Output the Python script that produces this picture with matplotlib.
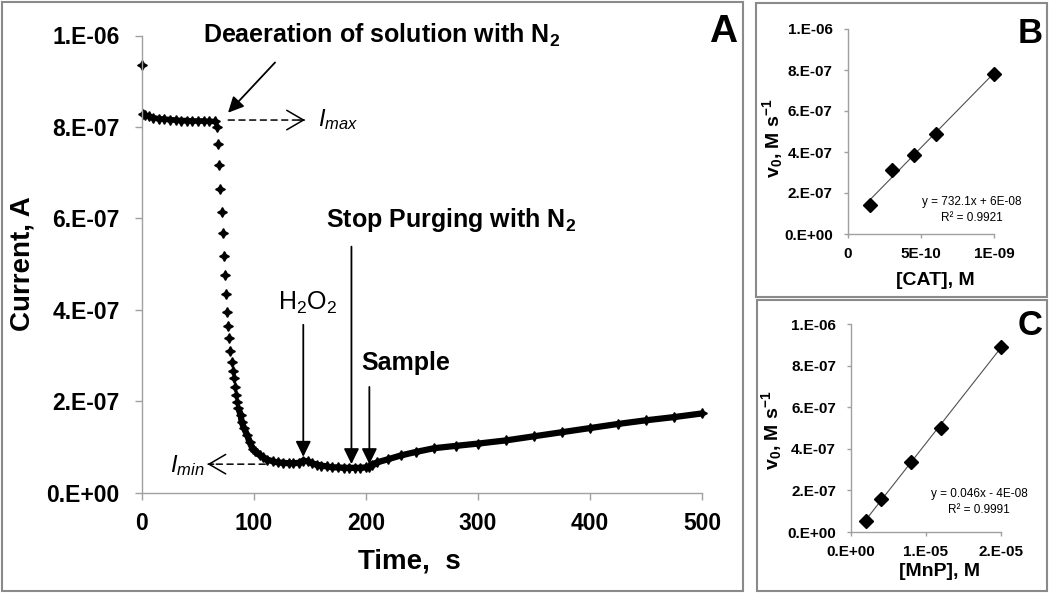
import numpy as np
import matplotlib
matplotlib.use('Agg')
import matplotlib.pyplot as plt
from matplotlib.patches import Rectangle

plt.rcParams['font.family'] = ['Liberation Sans', 'DejaVu Sans']
plt.rcParams['mathtext.fontset'] = 'custom'
plt.rcParams['mathtext.rm'] = 'Liberation Sans'
plt.rcParams['mathtext.it'] = 'Liberation Sans:italic'
plt.rcParams['mathtext.bf'] = 'Liberation Sans:bold'
plt.rcParams['mathtext.default'] = 'regular'

# ---- panel A: current vs time ----
time_s = [0, 1, 3, 6, 10, 15, 20, 25, 30, 35, 40, 45, 50, 55, 60, 65,
          67, 68, 69, 70, 71, 72, 73, 74, 75, 76, 77, 78, 79, 80, 81, 82, 83, 84, 85, 86,
          88, 89, 91, 94, 96, 99, 101,
          105, 108, 112, 117, 121, 126, 131, 135, 140,
          144, 148, 152, 156, 160, 165, 170, 175, 180, 185, 190, 195, 200,
          203, 205, 210, 220, 231, 245, 261, 280, 300,
          325, 350, 375, 400, 425, 450, 475, 500]
current_A = [9.35e-7, 8.29e-7, 8.26e-7, 8.23e-7, 8.20e-7, 8.18e-7, 8.17e-7, 8.16e-7,
             8.15e-7, 8.14e-7, 8.14e-7, 8.13e-7, 8.13e-7, 8.13e-7, 8.12e-7, 8.12e-7,
             7.99e-7, 7.62e-7, 7.16e-7, 6.65e-7, 6.13e-7, 5.67e-7, 5.17e-7, 4.76e-7,
             4.34e-7, 3.95e-7, 3.65e-7, 3.38e-7, 3.10e-7, 2.86e-7, 2.66e-7, 2.51e-7,
             2.31e-7, 2.14e-7, 1.98e-7, 1.85e-7,
             1.70e-7, 1.54e-7, 1.41e-7, 1.25e-7, 1.10e-7, 0.95e-7, 0.90e-7,
             0.82e-7, 0.77e-7, 0.72e-7, 0.68e-7, 0.66e-7, 0.65e-7, 0.64e-7, 0.64e-7, 0.65e-7,
             0.70e-7, 0.68e-7, 0.64e-7, 0.61e-7, 0.59e-7, 0.57e-7, 0.55e-7, 0.55e-7,
             0.54e-7, 0.54e-7, 0.54e-7, 0.54e-7, 0.55e-7,
             0.56e-7, 0.61e-7, 0.66e-7, 0.73e-7, 0.81e-7, 0.89e-7, 0.97e-7, 1.02e-7, 1.07e-7,
             1.14e-7, 1.23e-7, 1.32e-7, 1.41e-7, 1.50e-7, 1.58e-7, 1.65e-7, 1.73e-7]
a_xticks = [0, 100, 200, 300, 400, 500]
v_yticks = [0, 2e-7, 4e-7, 6e-7, 8e-7, 1e-6]
v_ytick_labels = ['0.E+00', '2.E-07', '4.E-07', '6.E-07', '8.E-07', '1.E-06']

# ---- panel B: rate vs catalase ----
cat_M = [1.5e-10, 3e-10, 4.5e-10, 6e-10, 1e-9]
v0_cat = [1.40e-7, 3.10e-7, 3.85e-7, 4.90e-7, 7.81e-7]
b_xticks = [0, 5e-10, 1e-9]
b_xtick_labels = ['0', '5E-10', '1E-09']

# ---- panel C: rate vs MnP ----
mnp_M = [2e-6, 4e-6, 8e-6, 1.2e-5, 2e-5]
v0_mnp = [0.53e-7, 1.59e-7, 3.38e-7, 5.01e-7, 8.91e-7]
c_xticks = [0, 1e-5, 2e-5]
c_xtick_labels = ['0.E+00', '1.E-05', '2.E-05']

AXIS_GREY = '#a0a0a0'
FRAME_GREY = '#8a8a8a'


def style_axes(ax, size, xpad, ypad, ticklen):
    for side in ['top', 'right']:
        ax.spines[side].set_visible(False)
    for side in ['left', 'bottom']:
        ax.spines[side].set_color(AXIS_GREY)
        ax.spines[side].set_linewidth(1.0)
    ax.tick_params(direction='out', length=ticklen, width=1.0, color=AXIS_GREY,
                   labelsize=size)
    ax.tick_params(axis='x', pad=xpad)
    ax.tick_params(axis='y', pad=ypad)
    for lab in ax.get_xticklabels() + ax.get_yticklabels():
        lab.set_fontweight('bold')


fig = plt.figure(figsize=(10.5, 5.93), dpi=100)

# panel frames
for (x0, y0, x1, y1) in [(2, 2, 743, 591), (756, 3, 1047, 297), (757, 300, 1047, 591)]:
    fig.add_artist(Rectangle((x0 / 1050, 1 - y1 / 593), (x1 - x0) / 1050, (y1 - y0) / 593,
                             transform=fig.transFigure, fill=False,
                             edgecolor=FRAME_GREY, lw=1.5))

# ---------------- panel A ----------------
ax = fig.add_axes([142 / 1050, 1 - 492.5 / 593, 560 / 1050, 457 / 593])
t = np.array(time_s)
cur = np.array(current_A)
ax.plot(t, cur, ls='none', marker=(4, 1, 0), ms=7, color='black', clip_on=False)
plateau = (t >= 1) & (t <= 65)
tail = t >= 86
ax.plot(t[plateau], cur[plateau], color='black', lw=4, solid_capstyle='butt')
ax.plot(t[tail], cur[tail], color='black', lw=4.5, solid_capstyle='butt', clip_on=False)
ax.set_xlim(0, 500)
ax.set_ylim(0, 1e-6)
ax.set_xticks(a_xticks)
ax.set_yticks(v_yticks)
ax.set_yticklabels(v_ytick_labels)
style_axes(ax, 16.5, 9, 11, 5)
ax.set_xlabel('Time,  s', fontsize=20, fontweight='bold', va='center')
ax.xaxis.set_label_coords(0.477, -0.152)
ax.set_ylabel('Current, A', fontsize=20, fontweight='bold', va='center')
ax.yaxis.set_label_coords(-0.214, 0.5)

solid = dict(arrowstyle='-|>,head_length=0.47,head_width=0.23', color='black',
             lw=1.3, shrinkA=0, shrinkB=0, mutation_scale=20)
ax.annotate('', xy=(76.8, 8.31e-7), xytext=(118.8, 9.41e-7), arrowprops=solid)
ax.annotate('', xy=(144, 7.8e-8), xytext=(144, 3.67e-7), arrowprops=solid)
ax.annotate('', xy=(187, 6.2e-8), xytext=(187, 5.38e-7), arrowprops=solid)
ax.annotate('', xy=(203, 6.2e-8), xytext=(203, 2.31e-7), arrowprops=solid)

dashed = dict(arrowstyle='-', color='black', lw=1.1, ls=(0, (4, 3)),
              shrinkA=0, shrinkB=0)
head = dict(arrowstyle='->,head_length=0.6,head_width=0.35', color='black',
            lw=1.1, shrinkA=0, shrinkB=0, mutation_scale=20)
ax.annotate('', xy=(145, 8.15e-7), xytext=(77, 8.15e-7), arrowprops=dashed)
ax.annotate('', xy=(145.5, 8.15e-7), xytext=(140, 8.15e-7), arrowprops=head)
ax.annotate('', xy=(59, 6.2e-8), xytext=(110, 6.2e-8), arrowprops=dashed)
ax.annotate('', xy=(58.5, 6.2e-8), xytext=(64, 6.2e-8), arrowprops=head)

ax.text(54.5, 1.0e-6, 'Deaeration of solution with N$_2$', fontsize=18,
        fontweight='bold', va='center', ha='left')
ax.text(164, 5.97e-7, 'Stop Purging with N$_2$', fontsize=18,
        fontweight='bold', va='center', ha='left')
ax.text(148, 4.15e-7, 'H$_2$O$_2$', fontsize=18, va='center', ha='center')
ax.text(196, 2.83e-7, 'Sample', fontsize=18, fontweight='bold', va='center', ha='left')
ax.text(157, 8.15e-7, 'I$_{max}$', fontsize=17, style='italic', va='center', ha='left')
ax.text(56, 6.0e-8, 'I$_{min}$', fontsize=17, style='italic', va='center', ha='right')
fig.text(737 / 1050, 1 - 14 / 593, 'A', fontsize=28, fontweight='bold', ha='right', va='top')

# ---------------- panel B ----------------
axb = fig.add_axes([848 / 1050, 1 - 234 / 593, 146 / 1050, 205 / 593])
axb.plot(cat_M, v0_cat, ls='none', marker='D', ms=7, color='black', clip_on=False)
fit_b = np.polyfit(cat_M, v0_cat, 1)
xb = np.array([min(cat_M), max(cat_M)])
axb.plot(xb, np.polyval(fit_b, xb), color='#505050', lw=0.8, zorder=1)
axb.set_xlim(0, 1e-9)
axb.set_ylim(0, 1e-6)
axb.set_xticks(b_xticks)
axb.set_xticklabels(b_xtick_labels)
axb.set_yticks(v_yticks)
axb.set_yticklabels(v_ytick_labels)
style_axes(axb, 11, 6.5, 8, 3)
axb.set_xlabel('[CAT], M', fontsize=14, fontweight='bold', va='center')
axb.xaxis.set_label_coords(0.596, -0.229)
axb.set_ylabel('v$_0$, M s$^{-1}$', fontsize=14, fontweight='bold', va='center')
axb.yaxis.set_label_coords(-0.52, 0.47)
axb.text(0.849, 0.158, 'y = 732.1x + 6E-08', transform=axb.transAxes,
         fontsize=8.5, ha='center', va='center')
axb.text(0.849, 0.078, 'R² = 0.9921', transform=axb.transAxes,
         fontsize=8.5, ha='center', va='center')
fig.text(1043 / 1050, 1 - 17 / 593, 'B', fontsize=25, fontweight='bold', ha='right', va='top')

# ---------------- panel C ----------------
axc = fig.add_axes([850.7 / 1050, 1 - 532 / 593, 150 / 1050, 208 / 593])
axc.plot(mnp_M, v0_mnp, ls='none', marker='D', ms=7, color='black', clip_on=False)
fit_c = np.polyfit(mnp_M, v0_mnp, 1)
xc = np.array([min(mnp_M), max(mnp_M)])
axc.plot(xc, np.polyval(fit_c, xc), color='#505050', lw=0.8, zorder=1)
axc.set_xlim(0, 2e-5)
axc.set_ylim(0, 1e-6)
axc.set_xticks(c_xticks)
axc.set_xticklabels(c_xtick_labels)
axc.set_yticks(v_yticks)
axc.set_yticklabels(v_ytick_labels)
style_axes(axc, 11, 6.5, 7.5, 3)
axc.set_xlabel('[MnP], M', fontsize=14, fontweight='bold', va='center')
axc.xaxis.set_label_coords(0.595, -0.192)
axc.set_ylabel('v$_0$, M s$^{-1}$', fontsize=14, fontweight='bold', va='center')
axc.yaxis.set_label_coords(-0.525, 0.49)
axc.text(0.855, 0.183, 'y = 0.046x - 4E-08', transform=axc.transAxes,
         fontsize=8.5, ha='center', va='center')
axc.text(0.855, 0.106, 'R² = 0.9991', transform=axc.transAxes,
         fontsize=8.5, ha='center', va='center')
fig.text(1043 / 1050, 1 - 309 / 593, 'C', fontsize=25, fontweight='bold', ha='right', va='top')

fig.savefig('out.png', dpi=100)
